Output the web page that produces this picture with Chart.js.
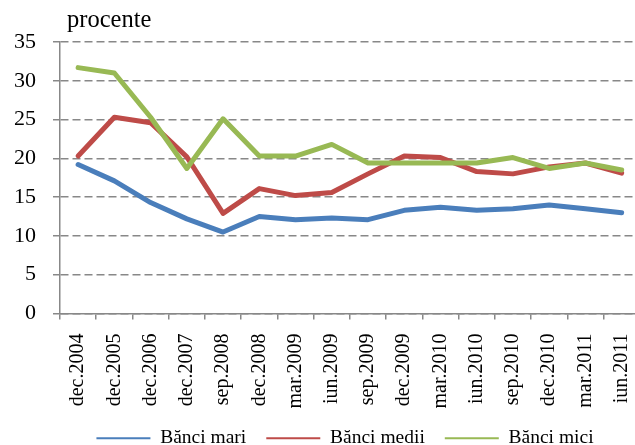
<!DOCTYPE html>
<html lang="ro">
<head>
<meta charset="UTF-8">
<title>Bănci - procente</title>
<style>
  html, body { margin: 0; padding: 0; background: #fff; }
  #frame { width: 635px; height: 445px; overflow: hidden; }
  #wrap { width: 660px; height: 458px; }
</style>
</head>
<body>
<div id="frame"><div id="wrap"><canvas id="chart"></canvas></div></div>
<script src="https://cdn.jsdelivr.net/npm/chart.js"></script>
<script>
  const labels = ['dec.2004', 'dec.2005', 'dec.2006', 'dec.2007', 'sep.2008', 'dec.2008', 'mar.2009', 'iun.2009',
    'sep.2009', 'dec.2009', 'mar.2010', 'iun.2010', 'sep.2010', 'dec.2010', 'mar.2011', 'iun.2011'];
  const banciMari = [19.2, 17.1, 14.3, 12.2, 10.5, 12.5, 12.1, 12.3, 12.1, 13.3, 13.7, 13.3, 13.5, 14.0, 13.5, 13.0];
  const banciMedii = [20.3, 25.3, 24.6, 20.2, 12.9, 16.1, 15.2, 15.6, 18.0, 20.3, 20.1, 18.3, 18.0, 18.9, 19.4, 18.1];
  const banciMici = [31.7, 31.0, 25.3, 18.7, 25.1, 20.3, 20.3, 21.8, 19.4, 19.4, 19.4, 19.4, 20.1, 18.7, 19.4, 18.5];
  const yMin = 0, yMax = 35, yStep = 5;

  const serif = '"Liberation Serif", "Times New Roman", serif';

  // "procente" above the y axis
  const unitLabel = {
    id: 'unitLabel',
    afterDraw(chart) {
      const ctx = chart.ctx;
      ctx.save();
      ctx.font = '24.5px ' + serif;
      ctx.fillStyle = '#000';
      ctx.textBaseline = 'alphabetic';
      ctx.fillText('procente', 67, 27);
      ctx.restore();
    }
  };

  // legend sits right of centre in the original
  const legendShift = {
    id: 'legendShift',
    afterLayout(chart) {
      const l = chart.legend;
      const dx = 345 - (l.left + l.right) / 2;
      l.left += dx; l.right += dx;
    }
  };

  // order: lower is drawn on top (green over red over blue, like the original)
  const mk = (label, data, color, order) => ({
    label: label,
    data: data,
    order: order,
    borderColor: color,
    backgroundColor: color,
    borderWidth: 5,
    borderJoinStyle: 'round',
    borderCapStyle: 'round',
    pointRadius: 0,
    tension: 0,
    fill: false
  });

  new Chart(document.getElementById('chart'), {
    type: 'line',
    data: {
      labels: labels,
      datasets: [
        mk('Bănci mari', banciMari, '#4A7EBB', 2),
        mk('Bănci medii', banciMedii, '#BE4B48', 1),
        mk('Bănci mici', banciMici, '#98B954', 0)
      ]
    },
    options: {
      responsive: true,
      maintainAspectRatio: false,
      animation: false,
      layout: { padding: { top: 42, right: 11, left: 0, bottom: 0 } },
      plugins: {
        tooltip: { enabled: false },
        legend: {
          position: 'bottom',
          labels: {
            color: '#000',
            font: { family: serif, size: 19.5 },
            boxWidth: 54,
            boxHeight: 2,
            padding: 20,
            generateLabels(chart) {
              return chart.data.datasets.map((ds, i) => ({
                text: ds.label,
                fillStyle: ds.borderColor,
                strokeStyle: ds.borderColor,
                lineWidth: 0,
                datasetIndex: i,
                hidden: false
              }));
            }
          }
        }
      },
      scales: {
        x: {
          offset: true,
          afterFit(scale) { scale.height = 95; },
          border: { display: true, color: '#888', width: 1.5 },
          grid: { offset: true, drawOnChartArea: false, drawTicks: true, tickLength: 6, color: '#888', lineWidth: 1.5 },
          ticks: {
            color: '#000',
            font: { family: serif, size: 20 },
            minRotation: 90,
            maxRotation: 90,
            padding: 14,
            autoSkip: false
          }
        },
        y: {
          min: yMin,
          max: yMax,
          afterFit(scale) { scale.width = 60; },
          border: { display: true, color: '#888', width: 1.5, dash: [8, 4] },
          grid: {
            color: '#888',
            lineWidth: 1.5,
            tickLength: 7
          },
          ticks: {
            stepSize: yStep,
            color: '#000',
            font: { family: serif, size: 22 },
            padding: 17
          }
        }
      }
    },
    plugins: [unitLabel, legendShift]
  });
</script>
</body>
</html>
